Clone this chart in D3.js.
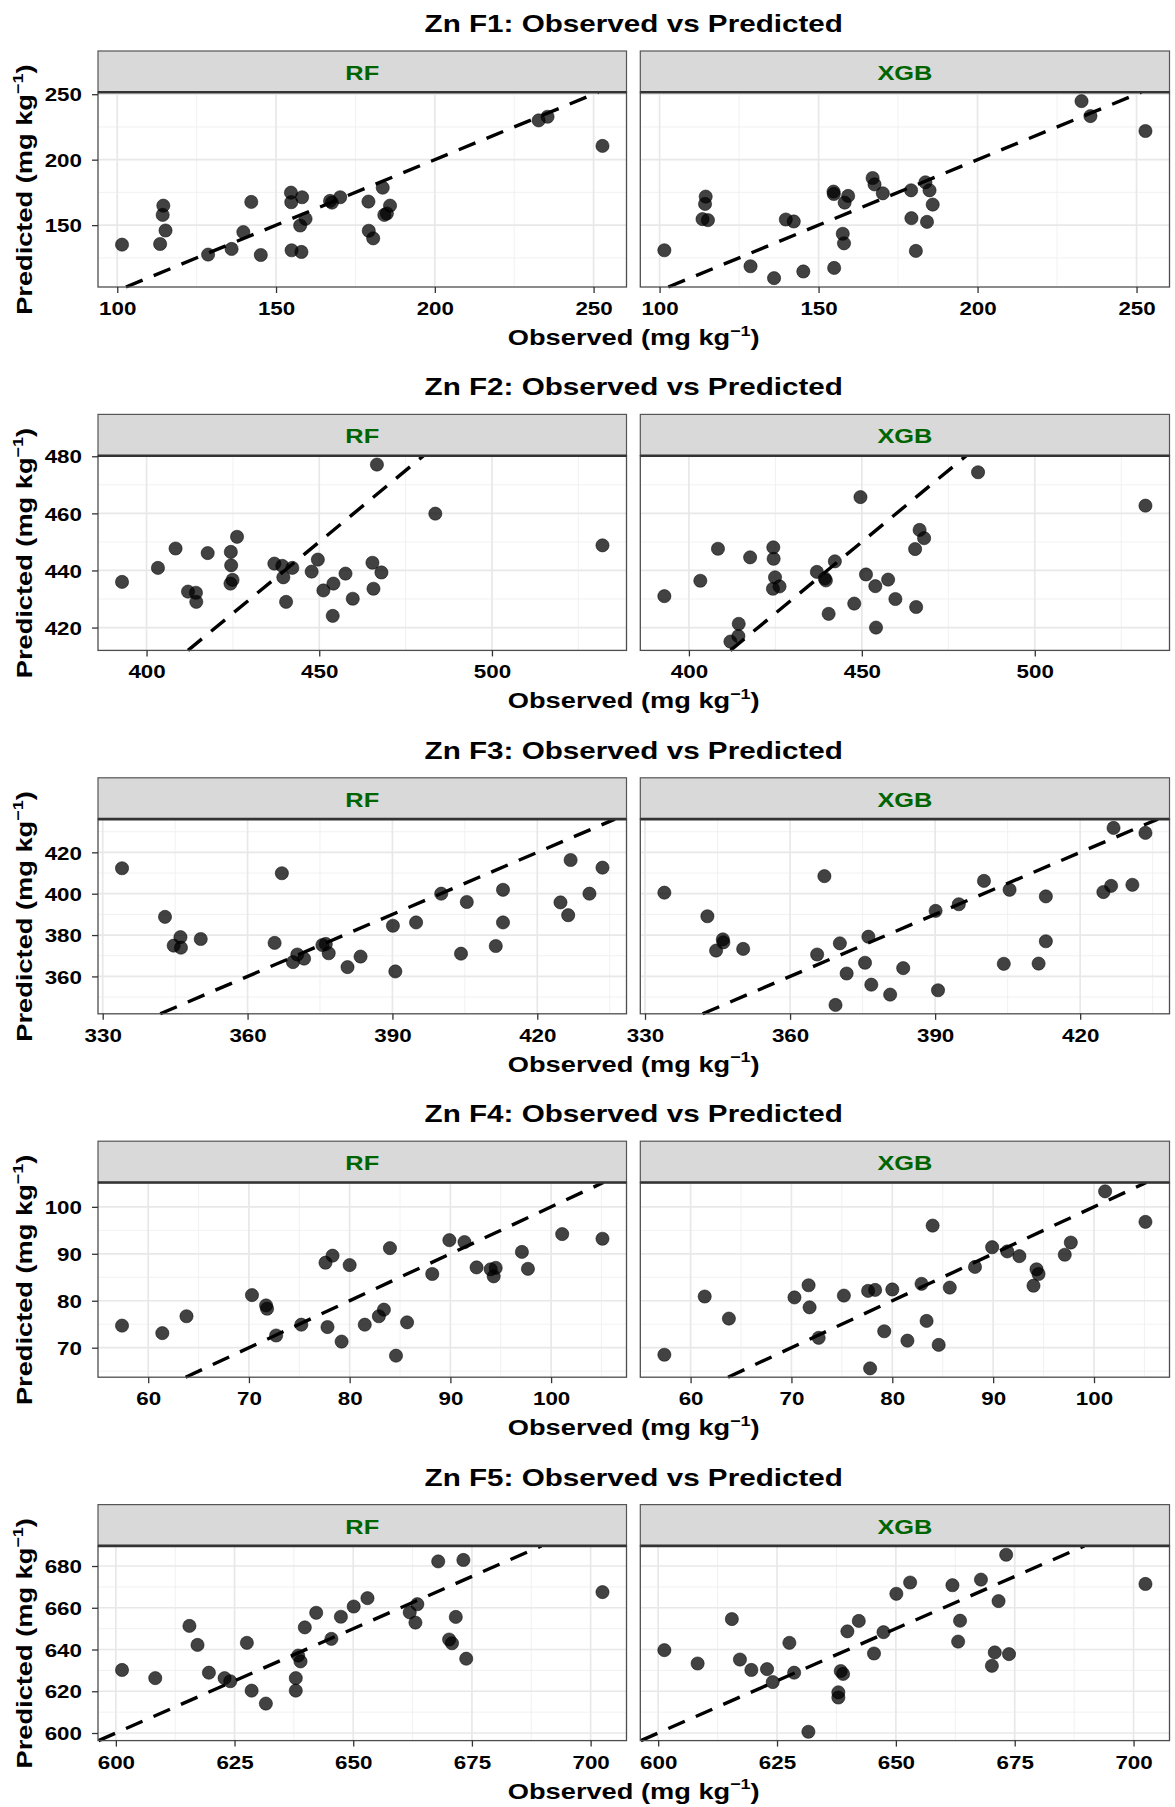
<!DOCTYPE html>
<html><head><meta charset="utf-8">
<script src="https://cdn.jsdelivr.net/npm/d3@7"></script>
<style>body{margin:0;background:#fff} svg{display:block}</style>
</head><body>
<svg id="chart" width="1175" height="1807"></svg>
<script>
// ---------------- DATA ----------------
const fractions = ["F1", "F2", "F3", "F4", "F5"];
const models = ["RF", "XGB"];

const obsF1 = [101.5,113.5,114.3,114.5,115.2,128.6,136.0,139.7,142.2,145.2,154.7,154.8,154.9,157.6,158.0,158.2,159.3,167.0,167.6,170.2,179.1,179.2,180.6,183.6,184.1,184.9,185.9,232.7,235.5,252.8];
const rfF1  = [135.1,135.6,157.8,164.9,145.9,127.5,131.8,144.7,167.7,127.2,174.8,167.5,130.8,149.7,129.5,171.3,154.8,168.5,167.2,171.3,168.0,145.7,139.9,178.6,157.8,158.9,164.9,230.0,232.8,210.5];
const xgbF1 = [130.8,154.6,166.2,171.8,153.8,118.6,109.5,154.3,152.8,114.6,175.6,173.8,117.3,143.4,136.1,167.2,172.3,186.0,181.1,174.3,176.6,155.3,130.3,182.7,152.5,176.6,165.7,244.7,233.3,221.9];

const obsF2 = [392.9,403.3,408.4,412.0,414.3,414.4,417.7,424.3,424.4,424.5,424.9,426.2,437.0,439.3,439.6,440.4,442.2,447.8,449.6,451.2,453.9,454.1,457.6,459.7,465.4,465.7,466.7,468.0,483.6,532.0];
const rfF2  = [436.0,440.9,447.7,432.6,432.2,429.0,446.1,435.4,446.5,441.8,436.7,451.8,442.4,441.6,437.6,429.0,440.9,439.6,443.8,433.0,424.1,435.4,438.9,430.1,442.7,433.6,477.1,439.3,459.9,448.8];
const xgbF2 = [431.0,436.4,447.6,415.1,417.0,421.3,444.6,433.6,448.1,444.1,437.6,434.4,439.5,437.2,436.5,424.8,443.2,428.4,465.7,438.6,434.5,420.0,436.8,430.0,447.5,427.2,454.2,451.3,474.4,462.7];

const obsF3 = [334.0,342.9,344.7,346.1,346.2,350.3,365.6,367.1,369.4,370.3,371.7,375.5,376.2,376.8,380.7,383.4,390.1,390.6,394.9,400.1,404.2,405.4,411.4,412.9,412.9,424.8,426.4,426.9,430.8,433.5];
const rfF3  = [412.3,388.8,374.9,379.0,373.9,378.1,376.2,409.9,366.9,370.6,368.6,375.2,375.7,371.2,364.5,369.6,384.5,362.4,386.1,400.0,371.0,396.0,374.7,401.9,386.1,395.8,389.6,416.3,400.0,412.6];
const xgbF3 = [400.5,389.1,372.5,377.9,376.5,373.3,370.6,408.5,346.2,376.0,361.4,366.6,379.2,356.0,351.2,364.0,391.7,353.3,394.9,406.2,366.1,401.9,366.2,398.7,377.0,400.8,403.8,431.8,404.3,429.4];

const obsF4 = [57.4,61.4,63.8,70.3,71.7,71.8,72.7,75.2,77.6,77.8,78.3,79.2,80.0,81.5,82.9,83.4,84.0,84.6,85.7,88.2,89.9,91.4,92.6,94.0,94.3,94.5,97.1,97.7,101.1,105.1];
const rfF4  = [74.7,73.1,76.7,81.2,79.0,78.3,72.6,74.9,88.1,74.4,89.6,71.3,87.6,74.9,76.7,78.1,91.2,68.3,75.4,85.7,92.9,92.5,87.1,86.7,85.2,87.0,90.4,86.8,94.2,93.2];
const xgbF4 = [68.5,80.9,76.2,80.7,83.3,78.6,72.1,81.1,82.1,65.6,82.3,73.5,82.4,71.5,83.6,75.7,96.0,70.6,82.8,87.2,91.4,90.5,89.5,83.2,86.7,85.7,89.8,92.4,103.3,96.8];

const obsF5 = [601.3,608.3,615.5,617.2,619.6,622.9,624.1,627.6,628.6,631.6,637.9,637.9,638.4,638.9,639.8,642.2,645.4,647.4,650.1,653.0,661.9,663.1,663.5,667.9,670.2,670.8,671.6,673.2,673.8,702.5];
const rfF5  = [630.2,626.3,651.3,642.2,628.9,626.3,624.8,643.2,620.3,614.1,626.3,620.3,637.1,634.3,650.6,657.6,645.1,655.7,660.6,664.6,657.8,652.9,661.7,682.2,644.8,643.0,655.6,682.9,635.6,667.5];
const xgbF5 = [639.7,633.3,654.6,635.2,630.2,630.6,624.4,643.2,628.9,600.6,617.0,619.5,629.7,628.3,648.7,653.7,638.1,648.3,666.7,672.1,670.8,643.8,653.8,673.5,632.2,638.6,663.2,685.4,637.8,671.4];

const xTicksF1 = [100,150,200,250], yTicksF1 = [150,200,250];
const xTicksF2 = [400,450,500],     yTicksF2 = [420,440,460,480];
const xTicksF3 = [330,360,390,420], yTicksF3 = [360,380,400,420];
const xTicksF4 = [60,70,80,90,100], yTicksF4 = [70,80,90,100];
const xTicksF5 = [600,625,650,675,700], yTicksF5 = [600,620,640,660,680];

const obsAll = [obsF1, obsF2, obsF3, obsF4, obsF5];
const rfAll  = [rfF1, rfF2, rfF3, rfF4, rfF5];
const xgbAll = [xgbF1, xgbF2, xgbF3, xgbF4, xgbF5];
const xTicksAll = [xTicksF1, xTicksF2, xTicksF3, xTicksF4, xTicksF5];
const yTicksAll = [yTicksF1, yTicksF2, yTicksF3, yTicksF4, yTicksF5];

// ---------------- LAYOUT / STYLE ----------------
const FONT = "'Liberation Sans', Arial, Helvetica, sans-serif";
const SX = 1.21;             // horizontal glyph stretch seen in reference
const rowPitch = 363.4;
const panelsX = [[98, 626.5], [640.3, 1169.5]];
const stripTop = 51, panelTop = 92.3, panelBot = 287;
const plotCx = (panelsX[0][0] + panelsX[1][1]) / 2;

const svg = d3.select("#chart");

function expand(ext) { const r = ext[1] - ext[0]; return [ext[0] - 0.05 * r, ext[1] + 0.05 * r]; }
function minorOf(ticks, dom) {
  const step = ticks[1] - ticks[0];
  const out = [];
  for (let v = ticks[0] - step / 2; v <= dom[1]; v += step) if (v >= dom[0]) out.push(v);
  return out;
}
function unitText(sel, prefix, size) {
  sel.append("tspan").text(prefix + " (mg kg");
  sel.append("tspan").attr("font-size", size * 0.66).attr("dy", -size * 0.42).text("\u22121");
  sel.append("tspan").attr("font-size", size).attr("dy", size * 0.42).text(")");
}

fractions.forEach((fr, i) => {
  const g = svg.append("g").attr("transform", `translate(0,${i * rowPitch})`);
  const obs = obsAll[i];
  const preds = [rfAll[i], xgbAll[i]];
  const xDom = expand(d3.extent(obs));
  const yDom = expand(d3.extent(preds[0].concat(preds[1])));
  const y = d3.scaleLinear().domain(yDom).range([panelBot, panelTop]);
  const xTicks = xTicksAll[i], yTicks = yTicksAll[i];
  const xMinor = minorOf(xTicks, xDom), yMinor = minorOf(yTicks, yDom);

  // title
  g.append("text")
    .attr("transform", `translate(${plotCx},32) scale(${SX},1)`)
    .attr("text-anchor", "middle").attr("font-family", FONT).attr("font-weight", "bold")
    .attr("font-size", 24.5).attr("fill", "#000")
    .text(`Zn ${fr}: Observed vs Predicted`);

  models.forEach((m, j) => {
    const [x0, x1] = panelsX[j];
    const x = d3.scaleLinear().domain(xDom).range([x0, x1]);
    const p = g.append("g");

    p.append("rect").attr("x", x0).attr("y", panelTop).attr("width", x1 - x0)
      .attr("height", panelBot - panelTop).attr("fill", "#fff");

    // minor grid
    p.selectAll(".mx").data(xMinor).join("line")
      .attr("x1", d => x(d)).attr("x2", d => x(d)).attr("y1", panelTop).attr("y2", panelBot)
      .attr("stroke", "#efefef").attr("stroke-width", 0.9);
    p.selectAll(".my").data(yMinor).join("line")
      .attr("y1", d => y(d)).attr("y2", d => y(d)).attr("x1", x0).attr("x2", x1)
      .attr("stroke", "#efefef").attr("stroke-width", 0.9);
    // major grid
    p.selectAll(".gx").data(xTicks).join("line")
      .attr("x1", d => x(d)).attr("x2", d => x(d)).attr("y1", panelTop).attr("y2", panelBot)
      .attr("stroke", "#e8e8e8").attr("stroke-width", 1.7);
    p.selectAll(".gy").data(yTicks).join("line")
      .attr("y1", d => y(d)).attr("y2", d => y(d)).attr("x1", x0).attr("x2", x1)
      .attr("stroke", "#e8e8e8").attr("stroke-width", 1.7);

    // 1:1 line (clipped to panel)
    const lo = Math.max(xDom[0], yDom[0]), hi = Math.min(xDom[1], yDom[1]);
    p.append("line")
      .attr("x1", x(lo)).attr("y1", y(lo)).attr("x2", x(hi)).attr("y2", y(hi))
      .attr("stroke", "#000").attr("stroke-width", 3.4).attr("stroke-dasharray", "18,12");

    // points
    const pts = obs.map((o, k) => ({ o, p: preds[j][k] }));
    p.selectAll("circle").data(pts).join("circle")
      .attr("cx", d => x(d.o)).attr("cy", d => y(d.p)).attr("r", 6.6)
      .attr("fill", "#000").attr("fill-opacity", 0.74)
      .attr("stroke", "#000").attr("stroke-opacity", 0.55).attr("stroke-width", 0.9);

    // panel border
    p.append("rect").attr("x", x0).attr("y", panelTop).attr("width", x1 - x0)
      .attr("height", panelBot - panelTop).attr("fill", "none")
      .attr("stroke", "#4d4d4d").attr("stroke-width", 1.3);

    // strip
    p.append("rect").attr("x", x0).attr("y", stripTop).attr("width", x1 - x0)
      .attr("height", panelTop - stripTop).attr("fill", "#d9d9d9")
      .attr("stroke", "#555").attr("stroke-width", 1.2);
    p.append("line").attr("x1", x0).attr("x2", x1).attr("y1", panelTop).attr("y2", panelTop)
      .attr("stroke", "#333").attr("stroke-width", 2.6);
    p.append("text")
      .attr("transform", `translate(${(x0 + x1) / 2},80) scale(${SX},1)`)
      .attr("text-anchor", "middle").attr("font-family", FONT).attr("font-weight", "bold")
      .attr("font-size", 21).attr("fill", "#006400").text(m);

    // x axis
    const ax = p.append("g").attr("transform", `translate(0,${panelBot})`)
      .call(d3.axisBottom(x).tickValues(xTicks).tickSize(6).tickFormat(d3.format("d")));
    ax.select(".domain").remove();
    ax.selectAll(".tick line").attr("stroke", "#333").attr("stroke-width", 1.3);
    ax.selectAll(".tick text").attr("y", 28).attr("dy", 0)
      .attr("transform", `scale(${SX},1)`)
      .attr("font-family", FONT).attr("font-weight", "bold").attr("font-size", 18.5).attr("fill", "#000");

    if (j === 0) {
      const ay = p.append("g").attr("transform", `translate(${x0},0)`)
        .call(d3.axisLeft(y).tickValues(yTicks).tickSize(6).tickFormat(d3.format("d")));
      ay.select(".domain").remove();
      ay.selectAll(".tick line").attr("stroke", "#333").attr("stroke-width", 1.3);
      ay.selectAll(".tick text").attr("x", -16 / SX).attr("dy", "0.36em")
        .attr("transform", `scale(${SX},1)`)
        .attr("font-family", FONT).attr("font-weight", "bold").attr("font-size", 18.5).attr("fill", "#000");
    }
  });

  // axis titles
  const xt = g.append("text")
    .attr("transform", `translate(${plotCx},345) scale(${SX},1)`)
    .attr("text-anchor", "middle").attr("font-family", FONT).attr("font-weight", "bold")
    .attr("font-size", 22.5).attr("fill", "#000");
  unitText(xt, "Observed", 22.5);

  const yt = g.append("text")
    .attr("transform", `translate(32,${(panelTop + panelBot) / 2}) rotate(-90) scale(${SX},1)`)
    .attr("text-anchor", "middle").attr("font-family", FONT).attr("font-weight", "bold")
    .attr("font-size", 22.5).attr("fill", "#000");
  unitText(yt, "Predicted", 22.5);
});
</script>
</body></html>
